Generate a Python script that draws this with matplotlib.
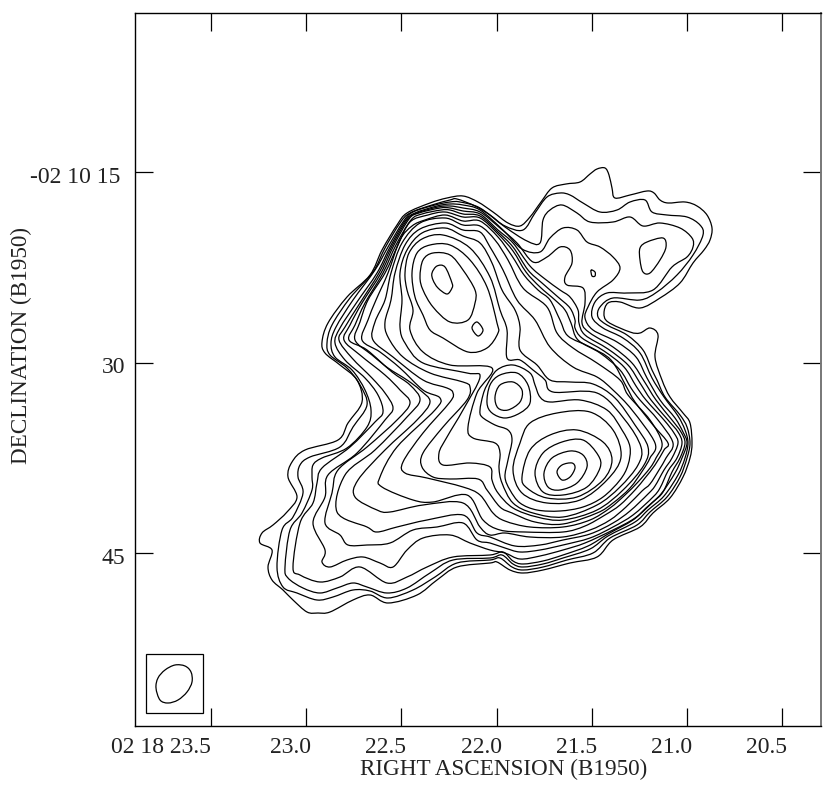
import numpy as np
import matplotlib
matplotlib.use('Agg')
import matplotlib.pyplot as plt
from matplotlib.path import Path
from matplotlib.patches import PathPatch, Rectangle
from matplotlib.transforms import ScaledTranslation

plt.rcParams['font.family'] = ['Liberation Serif', 'DejaVu Serif']

# ------------------------------------------------------------
# contours, in map pixels (x right, y down)
# ------------------------------------------------------------
c01 = [(463,196),(478,202),(493,212),(508,223),(520,226),(530,217),(541,202),(552,188),(566,184),(580,182),(590,174),(597,169),(605,168),(609,175),(612,188),(615,198),(630,195),(647,191),(654,193),(660,200),(668,203),(685,202),(697,206),(707,215),(712,228),(710,240),(704,250),(693,263),(680,283),(660,298),(640,308),(620,302),(608,303),(604,313),(608,322),(630,332),(640,333),(650,328),(658,335),(655,357),(662,380),(670,397),(683,413),(690,423),(692,443),(690,458),(683,477),(670,498),(653,513),(640,527),(613,540),(597,557),(570,563),(543,570),(523,573),(510,570),(497,562),(490,563),(457,567),(437,580),(417,595),(388,603),(370,595),(353,600),(330,612),(318,613),(307,612),(293,600),(283,590),(272,580),(268,567),(272,550),(260,543),(262,533),(273,525),(287,512),(297,497),(288,477),(292,462),(305,450),(338,440),(348,423),(362,402),(357,380),(340,365),(325,353),(322,342),(328,323),(347,297),(370,275),(382,250),(397,225),(407,213),(430,203),(447,198)]
c02 = [(457,199),(475,206),(490,215),(505,226),(523,230),(535,213),(547,197),(560,193),(570,195),(583,203),(600,212),(617,210),(630,202),(645,200),(652,212),(667,215),(687,217),(700,225),(703,235),(693,255),(677,275),(657,292),(640,300),(613,298),(600,307),(598,317),(607,325),(627,335),(643,350),(652,370),(657,380),(665,397),(680,415),(687,427),(690,443),(687,458),(680,477),(667,497),(650,512),(637,525),(610,538),(593,553),(567,560),(543,567),(523,570),(512,567),(500,558),(490,560),(457,563),(435,577),(413,590),(388,598),(370,591),(353,590),(333,597),(317,600),(297,593),(283,587),(277,567),(282,530),(293,517),(303,493),(298,477),(300,465),(310,457),(340,447),(353,427),(367,405),(360,385),(347,368),(330,355),(327,343),(332,325),(350,298),(373,272),(385,248),(400,223),(410,213),(432,205),(450,200)]
c03 = [(460,202),(480,208),(505,227),(527,241),(540,243),(543,220),(550,210),(562,205),(577,213),(590,222),(613,222),(630,217),(643,226),(660,223),(680,228),(692,238),(693,247),(687,257),(672,267),(653,290),(627,293),(607,293),(595,302),(592,317),(603,328),(623,338),(640,353),(652,378),(664,397),(678,416),(685,430),(688,443),(685,458),(678,475),(664,496),(648,510),(635,522),(608,536),(590,549),(563,558),(543,564),(523,567),(513,564),(502,555),(490,558),(453,560),(430,573),(407,588),(387,593),(367,587),(353,583),(337,588),(320,593),(303,588),(288,578),(285,567),(290,530),(302,513),(312,490),(312,477),(313,465),(322,458),(347,448),(367,427),(371,410),(365,390),(352,370),(335,357),(331,343),(336,327),(353,300),(375,270),(388,247),(403,222),(413,212),(435,205),(450,202)]
c04 = [(463,205),(480,210),(503,230),(522,249),(540,252),(550,238),(563,228),(577,230),(587,242),(600,247),(613,257),(620,268),(613,280),(597,292),(588,307),(585,318),(593,330),(617,342),(636,357),(647,378),(660,400),(675,418),(683,432),(687,443),(682,458),(675,473),(661,494),(646,508),(633,520),(608,534),(588,546),(563,555),(543,561),(523,564),(513,561),(503,552),(490,555),(453,557),(427,567),(407,577),(387,583),(360,567),(340,577),(320,582),(300,575),(293,567),(300,523),(313,503),(317,483),(322,468),(350,447),(375,422),(383,412),(378,395),(365,378),(345,360),(335,343),(340,328),(357,302),(377,273),(390,247),(405,221),(415,213),(437,206),(450,204)]
c05 = [(463,208),(480,212),(500,228),(517,243),(533,262),(547,257),(560,247),(570,250),(572,263),(565,277),(567,285),(583,288),(585,303),(582,323),(590,333),(613,347),(632,363),(644,381),(656,400),(672,420),(681,432),(685,443),(680,458),(672,472),(663,492),(653,502),(635,518),(613,530),(585,543),(563,550),(540,556),(520,559),(505,553),(490,550),(470,543),(450,535),(423,538),(407,550),(393,567),(380,563),(363,557),(347,560),(330,567),(322,562),(325,550),(313,523),(325,497),(328,475),(357,453),(385,420),(393,408),(385,393),(372,378),(352,358),(339,340),(345,327),(360,303),(379,273),(392,246),(407,220),(417,213),(438,207),(450,206)]
c06 = [(463,211),(480,214),(498,230),(513,243),(530,266),(545,279),(560,290),(570,297),(578,310),(579,323),(585,335),(608,349),(628,365),(640,383),(651,400),(668,420),(678,432),(682,443),(677,458),(668,471),(660,488),(653,497),(633,515),(613,527),(590,538),(563,545),(540,550),(520,552),(505,548),(490,543),(477,540),(463,523),(437,527),(413,530),(390,543),(367,545),(348,545),(340,535),(325,523),(332,493),(338,470),(367,447),(397,420),(410,403),(400,390),(385,375),(360,355),(344,340),(350,325),(362,303),(381,273),(394,245),(409,219),(419,213),(440,208),(450,208)]
c07 = [(463,214),(480,216),(498,232),(513,247),(528,270),(542,283),(558,297),(570,308),(575,320),(575,328),(582,338),(604,351),(624,367),(636,386),(646,400),(664,420),(674,433),(678,443),(672,458),(664,470),(655,486),(648,494),(630,511),(613,523),(590,534),(563,540),(540,545),(515,546),(490,537),(477,533),(463,515),(427,520),(397,527),(377,532),(367,527),(337,512),(345,475),(375,450),(407,417),(420,400),(410,385),(392,372),(367,350),(349,340),(355,325),(365,303),(383,273),(396,245),(411,220),(422,214),(441,210),(450,210)]
c08 = [(463,217),(480,218),(498,234),(513,251),(526,272),(540,287),(555,300),(565,310),(571,323),(578,340),(600,353),(620,370),(631,388),(640,400),(658,420),(673,443),(666,458),(659,470),(650,484),(642,491),(626,507),(610,520),(590,530),(563,537),(530,537),(505,533),(490,535),(480,527),(463,503),(423,505),(390,512),(377,510),(355,497),(358,480),(385,450),(417,420),(430,402),(420,390),(407,380),(388,368),(372,355),(355,340),(360,322),(368,300),(385,273),(398,245),(410,222),(428,215),(445,212)]
c09 = [(463,221),(480,221),(498,237),(512,256),(524,275),(538,290),(550,300),(560,320),(568,336),(590,347),(611,360),(626,386),(635,402),(653,425),(668,443),(664,450),(655,465),(645,478),(635,490),(620,505),(605,515),(585,526),(563,532),(525,532),(500,530),(483,520),(467,495),(433,502),(413,500),(382,487),(380,477),(397,447),(435,410),(440,398),(423,390),(400,368),(380,352),(362,340),(368,320),(376,300),(388,273),(400,240),(412,226),(425,220),(445,215)]
c10 = [(463,225),(480,226),(495,240),(508,260),(523,288),(547,307),(557,333),(573,348),(597,363),(620,380),(628,395),(650,420),(662,443),(656,458),(650,468),(638,482),(625,495),(610,508),(590,520),(563,527),(530,527),(505,521),(493,513),(480,495),(463,487),(427,478),(405,473),(403,462),(423,433),(450,402),(453,393),(447,388),(423,380),(393,357),(373,340),(375,322),(385,300),(391,273),(402,243),(420,223),(445,218)]
c11 = [(463,230),(480,232),(490,247),(503,270),(517,300),(535,320),(550,347),(573,367),(597,377),(613,390),(632,410),(655,443),(650,458),(643,470),(630,488),(613,503),(597,513),(563,524),(535,522),(512,513),(500,507),(487,490),(478,479),(450,479),(433,477),(422,467),(423,453),(443,427),(467,400),(470,387),(463,382),(430,373),(403,357),(388,337),(385,322),(391,300),(395,273),(405,245),(420,229),(445,223)]
c12 = [(463,236),(480,243),(492,263),(502,290),(515,310),(520,327),(520,350),(537,365),(550,380),(570,382),(593,384),(615,398),(635,425),(648,447),(644,465),(623,490),(597,510),(563,520),(537,517),(513,508),(498,493),(492,480),(490,467),(470,463),(443,465),(439,453),(447,437),(463,410),(480,377),(467,373),(423,363),(405,343),(400,327),(402,300),(400,273),(407,250),(422,233),(445,228)]
c13 = [(443,235),(470,248),(490,277),(500,310),(507,330),(507,358),(520,360),(533,370),(545,380),(553,392),(597,393),(625,420),(641,447),(638,465),(620,487),(597,505),(563,517),(533,513),(513,503),(502,483),(499,468),(500,453),(495,443),(473,438),(468,427),(477,393),(492,368),(450,365),(423,352),(410,330),(413,310),(407,290),(405,273),(409,253),(422,239)]
c14_north = [(412,273),(417,253),(430,245),(450,245),(470,260),(487,287),(497,323),(498,333),(487,348),(468,352),(443,338),(430,330),(423,315),(415,297)]
c14_south = [(497,370),(513,365),(530,373),(535,385),(540,397),(550,402),(580,400),(607,410),(622,430),(630,447),(628,465),(620,480),(603,497),(583,507),(560,511),(537,510),(520,503),(510,490),(505,477),(508,460),(512,440),(508,430),(495,425),(482,417),(480,410),(483,395),(487,385)]
c15_north = [(420,277),(423,260),(433,253),(450,255),(463,270),(475,290),(475,303),(468,320),(450,322),(433,307),(423,290)]
c15_knot = [(472,328),(477,322),(483,330),(478,336)]
c15_middle = [(487,403),(490,385),(500,375),(517,373),(528,385),(530,403),(520,413),(505,418),(492,413)]
c15_south = [(530,423),(557,413),(590,412),(613,430),(621,457),(607,480),(580,500),(547,503),(522,493),(513,470),(520,443)]
c16_north = [(432,273),(437,266),(445,267),(452,283),(452,288),(447,294),(438,288),(433,280)]
c16_middle = [(495,397),(500,385),(513,382),(522,390),(520,402),(508,410),(498,408)]
c16_south = [(522,477),(530,450),(550,435),(577,430),(603,442),(612,460),(603,480),(577,497),(547,498),(527,488)]
c17_south = [(535,473),(543,453),(562,442),(583,440),(598,455),(600,468),(587,487),(563,495),(543,492)]
c18_south = [(544,473),(552,458),(570,451),(583,455),(587,467),(577,483),(560,490),(548,487)]
c19_south = [(557,472),(562,465),(572,463),(575,468),(570,477),(562,480)]
lobe_island = [(640,248),(647,242),(663,238),(666,247),(660,260),(650,273),(643,272),(640,260)]
lobe_dot = [(591,270),(595,272),(595,276),(592,276)]
beam_outline = [(156,688),(158,678),(165,670),(175,665),(185,666),(191,672),(192,682),(187,692),(178,700),(168,703),(160,700)]

contours = [c01, c02, c03, c04, c05, c06, c07, c08, c09, c10, c11, c12, c13,
            c14_north, c14_south, c15_north, c15_knot, c15_middle, c15_south,
            c16_north, c16_middle, c16_south, c17_south, c18_south, c19_south,
            lobe_island, lobe_dot]

ra_ticks = [23.5, 23.0, 22.5, 22.0, 21.5, 21.0, 20.5]
ra_labels = ['02 18 23.5', '23.0', '22.5', '22.0', '21.5', '21.0', '20.5']
dec_ticks = [15, 30, 45]
dec_labels = ['-02 10 15', '30', '45']

# map pixel -> sky
def to_ra(px):
    return 23.5 - (np.asarray(px, dtype=float) - 211.0) / 190.4

def to_dec(py):
    return 15.0 + (np.asarray(py, dtype=float) - 172.0) / 12.7

def closed_curve(points):
    """closed smooth path through the traced points"""
    p = np.column_stack([to_ra([q[0] for q in points]), to_dec([q[1] for q in points])])
    n = len(p)
    verts = [p[0]]
    codes = [Path.MOVETO]
    for i in range(n):
        p0, p1, p2, p3 = p[i - 1], p[i], p[(i + 1) % n], p[(i + 2) % n]
        verts += [p1 + (p2 - p0) / 6, p2 - (p3 - p1) / 6, p2]
        codes += [Path.CURVE4] * 3
    return Path(verts, codes)

W, H = 830, 790
fig = plt.figure(figsize=(W / 100, H / 100), dpi=100)
left, right, top, bottom = 134.5, 821, 13, 726
ax = fig.add_axes([left / W, 1 - bottom / H, (right - left) / W, (bottom - top) / H])
ax.set_xlim(to_ra(left), to_ra(right))
ax.set_ylim(to_dec(bottom), to_dec(top))

for c in contours:
    ax.add_patch(PathPatch(closed_curve(c), fill=False, ec='black', lw=0.9))

# beam box
ax.add_patch(Rectangle((to_ra(145.5), to_dec(713)), to_ra(203) - to_ra(145.5), to_dec(654) - to_dec(713),
                       fill=False, ec='black', lw=0.9))
ax.add_patch(PathPatch(closed_curve(beam_outline), fill=False, ec='black', lw=0.9))

ax.set_xticks(ra_ticks)
ax.set_yticks(dec_ticks)
ax.set_xticklabels(ra_labels, ha='right', color='#222222')
ax.set_yticklabels(dec_labels, color='#222222')
ax.tick_params(direction='in', length=13, width=0.9, top=True, right=True, labelsize=17, pad=8)
ax.tick_params(axis='y', pad=6.5)
for s in ax.spines.values():
    s.set_linewidth(1.0)
ax.spines['right'].set_linewidth(1.4)
ax.spines['right'].set_color('#777777')

# labels sit a little off their ticks
shift_x = ScaledTranslation(5 / 100, 0, fig.dpi_scale_trans)
for lab in ax.get_xticklabels()[1:]:
    lab.set_transform(lab.get_transform() + shift_x)
for i, lab in enumerate(ax.get_yticklabels()):
    dx = -5 / 100 if i == 0 else 0
    lab.set_transform(lab.get_transform() + ScaledTranslation(dx, -2.5 / 100, fig.dpi_scale_trans))

fig.text(504 / W, 1 - 769 / H, 'RIGHT ASCENSION (B1950)', ha='center', va='center', fontsize=16.7, color='#222222')
fig.text(21 / W, 1 - 345 / H, 'DECLINATION (B1950)', rotation=90, ha='center', va='center', fontsize=16.7, color='#222222')

fig.savefig('out.png', dpi=100)
